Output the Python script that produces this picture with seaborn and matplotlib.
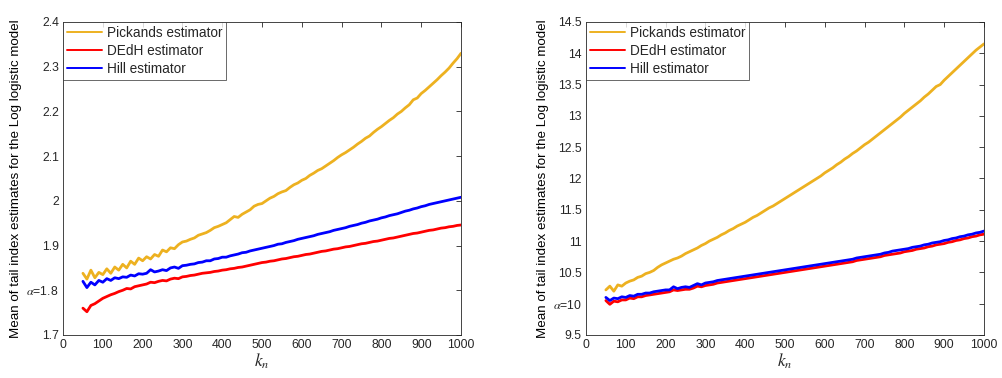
import numpy as np
import pandas as pd
import matplotlib
matplotlib.use("Agg")
import matplotlib.pyplot as plt
import seaborn as sns

k_values = list(range(50, 1001, 10))

left_pickands = [1.838, 1.825, 1.845, 1.828, 1.840, 1.835, 1.848, 1.838, 1.852, 1.845,
                 1.858, 1.850, 1.865, 1.858, 1.872, 1.866, 1.875, 1.870, 1.880, 1.876,
                 1.890, 1.886, 1.895, 1.893, 1.902, 1.908, 1.910, 1.914, 1.917, 1.923,
                 1.926, 1.929, 1.934, 1.940, 1.943, 1.947, 1.951, 1.958, 1.965, 1.963,
                 1.970, 1.975, 1.980, 1.988, 1.992, 1.994, 2.000, 2.006, 2.010, 2.016,
                 2.020, 2.023, 2.030, 2.036, 2.040, 2.046, 2.050, 2.057, 2.062, 2.068,
                 2.072, 2.078, 2.084, 2.090, 2.097, 2.103, 2.108, 2.114, 2.120, 2.127,
                 2.133, 2.140, 2.145, 2.153, 2.160, 2.166, 2.173, 2.180, 2.186, 2.194,
                 2.200, 2.208, 2.215, 2.226, 2.230, 2.240, 2.247, 2.255, 2.263, 2.271,
                 2.280, 2.288, 2.297, 2.308, 2.318, 2.330]
left_dedh = [1.760, 1.752, 1.766, 1.770, 1.776, 1.782, 1.786, 1.790, 1.793, 1.797,
             1.800, 1.804, 1.803, 1.808, 1.810, 1.812, 1.814, 1.818, 1.817, 1.820,
             1.822, 1.821, 1.825, 1.827, 1.826, 1.830, 1.831, 1.833, 1.834, 1.836,
             1.838, 1.839, 1.840, 1.842, 1.843, 1.845, 1.846, 1.848, 1.849, 1.851,
             1.852, 1.854, 1.856, 1.858, 1.860, 1.862, 1.863, 1.865, 1.866, 1.868,
             1.870, 1.871, 1.873, 1.875, 1.876, 1.878, 1.880, 1.881, 1.883, 1.885,
             1.887, 1.888, 1.890, 1.892, 1.893, 1.895, 1.897, 1.898, 1.900, 1.902,
             1.904, 1.905, 1.907, 1.909, 1.910, 1.912, 1.914, 1.916, 1.917, 1.919,
             1.921, 1.923, 1.925, 1.927, 1.928, 1.930, 1.932, 1.934, 1.935, 1.937,
             1.939, 1.940, 1.942, 1.943, 1.945, 1.946]
left_hill = [1.820, 1.806, 1.818, 1.812, 1.822, 1.818, 1.826, 1.822, 1.828, 1.826,
             1.830, 1.829, 1.834, 1.832, 1.837, 1.836, 1.838, 1.846, 1.841, 1.843,
             1.846, 1.844, 1.850, 1.852, 1.849, 1.855, 1.856, 1.858, 1.859, 1.862,
             1.863, 1.866, 1.866, 1.870, 1.871, 1.874, 1.874, 1.877, 1.879, 1.881,
             1.884, 1.885, 1.888, 1.890, 1.892, 1.894, 1.896, 1.898, 1.900, 1.903,
             1.904, 1.907, 1.909, 1.911, 1.914, 1.916, 1.918, 1.920, 1.922, 1.925,
             1.927, 1.929, 1.931, 1.934, 1.936, 1.938, 1.940, 1.943, 1.945, 1.947,
             1.950, 1.952, 1.955, 1.957, 1.959, 1.962, 1.964, 1.967, 1.969, 1.971,
             1.974, 1.977, 1.979, 1.982, 1.984, 1.987, 1.989, 1.992, 1.994, 1.996,
             1.998, 2.000, 2.002, 2.004, 2.006, 2.008]

right_pickands = [10.22, 10.28, 10.20, 10.30, 10.28, 10.33, 10.36, 10.38, 10.42, 10.44,
                  10.48, 10.50, 10.53, 10.58, 10.62, 10.65, 10.68, 10.71, 10.73, 10.76,
                  10.80, 10.83, 10.86, 10.89, 10.93, 10.96, 11.00, 11.03, 11.06, 11.10,
                  11.13, 11.17, 11.20, 11.24, 11.27, 11.30, 11.34, 11.38, 11.41, 11.45,
                  11.49, 11.53, 11.56, 11.60, 11.64, 11.68, 11.72, 11.76, 11.80, 11.84,
                  11.88, 11.92, 11.96, 12.00, 12.04, 12.09, 12.13, 12.17, 12.22, 12.26,
                  12.31, 12.35, 12.40, 12.44, 12.49, 12.54, 12.58, 12.63, 12.68, 12.73,
                  12.78, 12.83, 12.88, 12.93, 12.98, 13.04, 13.09, 13.14, 13.19, 13.24,
                  13.30, 13.35, 13.41, 13.47, 13.50, 13.57, 13.63, 13.69, 13.75, 13.81,
                  13.87, 13.93, 13.99, 14.05, 14.10, 14.15]
right_dedh = [10.05, 9.99, 10.04, 10.03, 10.06, 10.06, 10.09, 10.08, 10.11, 10.11,
              10.13, 10.14, 10.15, 10.16, 10.17, 10.18, 10.19, 10.22, 10.21, 10.22,
              10.23, 10.23, 10.25, 10.28, 10.27, 10.29, 10.30, 10.31, 10.33, 10.34,
              10.35, 10.36, 10.37, 10.38, 10.39, 10.40, 10.41, 10.42, 10.43, 10.44,
              10.45, 10.46, 10.47, 10.48, 10.49, 10.50, 10.51, 10.52, 10.53, 10.54,
              10.55, 10.56, 10.57, 10.58, 10.59, 10.60, 10.61, 10.62, 10.63, 10.64,
              10.65, 10.66, 10.67, 10.69, 10.70, 10.71, 10.72, 10.73, 10.74, 10.75,
              10.77, 10.78, 10.79, 10.80, 10.81, 10.83, 10.84, 10.85, 10.87, 10.88,
              10.89, 10.91, 10.92, 10.94, 10.95, 10.96, 10.98, 10.99, 11.01, 11.02,
              11.04, 11.05, 11.07, 11.08, 11.10, 11.11]
right_hill = [10.10, 10.05, 10.09, 10.08, 10.11, 10.10, 10.13, 10.12, 10.15, 10.15,
              10.17, 10.17, 10.19, 10.20, 10.21, 10.22, 10.22, 10.27, 10.24, 10.26,
              10.27, 10.26, 10.29, 10.32, 10.30, 10.33, 10.34, 10.35, 10.37, 10.38,
              10.39, 10.40, 10.41, 10.42, 10.43, 10.44, 10.45, 10.46, 10.47, 10.48,
              10.49, 10.50, 10.51, 10.52, 10.53, 10.54, 10.55, 10.56, 10.57, 10.58,
              10.59, 10.60, 10.61, 10.62, 10.63, 10.64, 10.65, 10.66, 10.67, 10.68,
              10.69, 10.70, 10.71, 10.73, 10.74, 10.75, 10.76, 10.77, 10.78, 10.79,
              10.81, 10.82, 10.84, 10.85, 10.86, 10.87, 10.88, 10.90, 10.91, 10.92,
              10.94, 10.95, 10.97, 10.98, 10.99, 11.01, 11.02, 11.04, 11.05, 11.07,
              11.08, 11.10, 11.11, 11.13, 11.14, 11.16]

series_names = ["Pickands estimator", "DEdH estimator", "Hill estimator"]
series_colors = ["#EDB120", "#FF0000", "#0000FF"]

x_ticks = [0, 100, 200, 300, 400, 500, 600, 700, 800, 900, 1000]
left_yticks = [1.7, 1.8, 1.9, 2.0, 2.1, 2.2, 2.3, 2.4]
left_yticklabels = ["1.7", r"$\alpha$=1.8", "1.9", "2", "2.1", "2.2", "2.3", "2.4"]
right_yticks = [9.5, 10, 10.5, 11, 11.5, 12, 12.5, 13, 13.5, 14, 14.5]
right_yticklabels = ["9.5", r"$\alpha$=10", "10.5", "11", "11.5", "12", "12.5",
                     "13", "13.5", "14", "14.5"]
y_label = "Mean of tail index estimates for the Log logistic model"


def build_frame(pick, dedh, hill):
    frames = []
    for name, vals in zip(series_names, [pick, dedh, hill]):
        frames.append(pd.DataFrame({"k": k_values, "value": vals, "series": name}))
    return pd.concat(frames, ignore_index=True)


sns.set_style("white")
plt.rcParams["font.family"] = ["Liberation Sans", "DejaVu Sans"]
plt.rcParams["mathtext.fontset"] = "stix"

fig = plt.figure(figsize=(10.02, 3.78), dpi=100)
ax1 = fig.add_axes([0.0629, 0.1138, 0.3972, 0.8280])
ax2 = fig.add_axes([0.5848, 0.1138, 0.3972, 0.8280])

panels = [
    (ax1, build_frame(left_pickands, left_dedh, left_hill), (1.7, 2.4), left_yticks, left_yticklabels),
    (ax2, build_frame(right_pickands, right_dedh, right_hill), (9.5, 14.5), right_yticks, right_yticklabels),
]

for ax, df, ylim, yt, ytl in panels:
    sns.lineplot(data=df, x="k", y="value", hue="series", hue_order=series_names,
                 palette=series_colors, linewidth=2.0, ax=ax, legend=True)
    ax.set_xlim(0, 1000)
    ax.set_ylim(*ylim)
    ax.set_xticks(x_ticks)
    ax.set_xticklabels([str(t) for t in x_ticks])
    ax.set_yticks(yt)
    ax.set_yticklabels(ytl)
    ax.tick_params(direction="in", length=3.5, width=0.6, colors="#262626",
                   labelsize=8.8, top=True, right=True, pad=3)
    for sp in ax.spines.values():
        sp.set_color("#262626")
        sp.set_linewidth(0.6)
    ax.set_xlabel(r"$k_n$", fontsize=12.5, labelpad=0)
    ax.set_ylabel(y_label, fontsize=9.6, labelpad=3, color="black")
    leg = ax.legend(loc="upper left", fontsize=9.8, frameon=True, fancybox=False,
                    borderaxespad=0, handlelength=2.6, handletextpad=0.3,
                    borderpad=0.3, labelspacing=0.3)
    leg.get_frame().set_edgecolor("#262626")
    leg.get_frame().set_linewidth(0.6)
    for line in leg.get_lines():
        line.set_linewidth(1.4)

fig.savefig("out.png", dpi=100)
